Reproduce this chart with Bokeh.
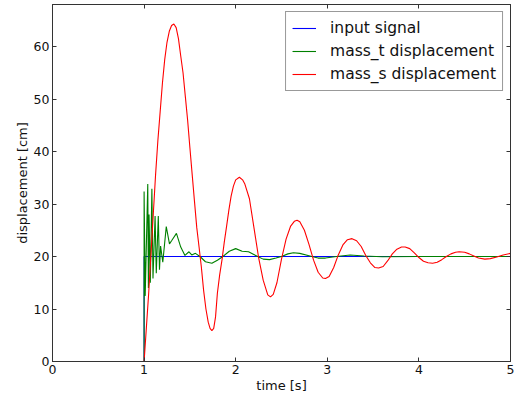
from bokeh.plotting import figure
from bokeh.models import (LinearAxis, Range1d, Legend, LegendItem, FixedTicker,
                          CustomLabelingPolicy)
from bokeh.embed import file_html
from bokeh.resources import INLINE

# ---- data ----
input_t = [0.0, 1.0, 1.0, 5.0]
input_y = [0.0, 0.0, 20.0, 20.0]

mass_t_t = [0.0, 1.0, 1.0, 1.012, 1.04, 1.047, 1.054, 1.068, 1.085, 1.097, 1.12, 1.133,
            1.155, 1.168, 1.18, 1.204, 1.242, 1.277, 1.30, 1.353, 1.40, 1.446, 1.49,
            1.52, 1.56, 1.61, 1.67, 1.74, 1.80, 1.86, 1.93, 2.0, 2.07, 2.14, 2.24,
            2.30, 2.37, 2.44, 2.5, 2.57, 2.63, 2.7, 2.83, 2.9, 2.98, 3.1, 3.25, 3.4,
            3.6, 4.0, 5.0]
mass_t_y = [0.0, 0.0, 32.4, 12.5, 33.8, 14.0, 28.0, 15.0, 32.9, 15.8, 27.7, 16.8,
            27.7, 17.5, 22.0, 18.9, 25.7, 22.4, 23.0, 24.4, 21.8, 20.2, 20.9,
            20.3, 20.6, 20.0, 19.0, 18.7, 19.3, 20.0, 21.0, 21.5, 21.0, 20.9, 20.0,
            19.5, 19.4, 19.7, 20.0, 20.5, 20.7, 20.6, 20.0, 19.7, 19.7, 20.0, 20.3, 20.1,
            19.95, 20.0, 20.0]

mass_s_t = [0.0, 1.0, 1.025, 1.05, 1.075, 1.1, 1.125, 1.15, 1.175, 1.2, 1.225, 1.25,
            1.275, 1.3, 1.325, 1.35, 1.375, 1.4, 1.425, 1.45, 1.475, 1.5, 1.525, 1.55,
            1.575, 1.6, 1.625, 1.65, 1.675, 1.7, 1.72, 1.74, 1.76, 1.78, 1.8, 1.825,
            1.85, 1.875, 1.9, 1.925, 1.95, 1.975, 2.0, 2.04, 2.075, 2.1, 2.15, 2.2,
            2.25, 2.3, 2.35, 2.38, 2.41, 2.45, 2.5, 2.55, 2.6, 2.64, 2.67, 2.7, 2.75,
            2.8, 2.85, 2.9, 2.95, 2.98, 3.02, 3.07, 3.12, 3.17, 3.22, 3.27, 3.32, 3.37,
            3.42, 3.47, 3.52, 3.56, 3.61, 3.66, 3.71, 3.76, 3.81, 3.85, 3.9, 3.95, 4.0,
            4.05, 4.1, 4.15, 4.2, 4.25, 4.3, 4.35, 4.4, 4.44, 4.5, 4.55, 4.6, 4.65,
            4.72, 4.78, 4.85, 4.92, 5.0]
mass_s_y = [0.0, 0.0, 6.5, 13.0, 20.5, 28.0, 35.5, 42.0, 47.5, 53.0, 57.5, 60.8,
            62.9, 64.0, 64.3, 63.6, 61.5, 58.2, 55.0, 50.5, 46.0, 40.7, 35.6, 30.5,
            25.5, 21.8, 18.0, 13.5, 10.0, 7.5, 6.3, 5.9, 6.3, 8.5, 13.0, 16.5,
            19.3, 22.7, 25.7, 28.8, 31.5, 33.4, 34.6, 35.1, 34.6, 33.8, 31.0, 25.4,
            19.8, 15.5, 12.7, 12.3, 12.8, 15.0, 19.5, 23.3, 25.8, 26.7, 26.9, 26.6, 25.0,
            22.3, 19.3, 17.0, 15.9, 15.8, 16.2, 17.9, 20.3, 22.2, 23.2, 23.4, 23.0, 21.9,
            20.2, 18.8, 17.9, 17.8, 18.1, 19.2, 20.5, 21.4, 21.8, 21.8, 21.5, 20.7, 19.8,
            19.1, 18.8, 18.7, 18.9, 19.4, 20.0, 20.5, 20.8, 20.9, 20.8, 20.5, 20.1, 19.7,
            19.5, 19.6, 19.9, 20.3, 20.6]

x_ticks = [0, 1, 2, 3, 4, 5]
y_ticks = [0, 10, 20, 30, 40, 50, 60]
labels = ["input signal", "mass_t displacement", "mass_s displacement"]
colors = ["#0000ff", "#008000", "#ff0000"]

FONT = "DejaVu Sans"
TXT = "#111111"
SPINE = "#333333"

p = figure(width=514, height=395, output_backend="svg", toolbar_location=None,
           x_range=Range1d(0, 5), y_range=Range1d(0, 68),
           min_border_left=52, min_border_top=0, min_border_right=0,
           min_border_bottom=0)
p.grid.visible = False
p.outline_line_color = SPINE
p.outline_line_width = 1
p.background_fill_color = "white"
p.border_fill_color = "white"

r1 = p.line(input_t, input_y, line_color=colors[0], line_width=1.1)
r2 = p.line(mass_t_t, mass_t_y, line_color=colors[1], line_width=1.1)
r3 = p.line(mass_s_t, mass_s_y, line_color=colors[2], line_width=1.1)

for ax in p.xaxis:
    ax.ticker = FixedTicker(ticks=x_ticks)
for ax in p.yaxis:
    ax.ticker = FixedTicker(ticks=y_ticks)

p.xaxis.axis_label = "time [s]"
p.yaxis.axis_label = "displacement [cm]"
for ax in list(p.xaxis) + list(p.yaxis):
    ax.axis_label_text_font = FONT
    ax.axis_label_text_font_size = "13px"
    ax.axis_label_text_font_style = "normal"
    ax.axis_label_text_color = TXT
    ax.major_label_text_font = FONT
    ax.major_label_text_font_size = "12.5px"
    ax.major_label_text_color = TXT
    ax.major_tick_in = 4
    ax.major_tick_out = 0
    ax.minor_tick_in = 0
    ax.minor_tick_out = 0
    ax.axis_line_color = SPINE
    ax.major_tick_line_color = SPINE
    ax.major_label_standoff = 3
    ax.axis_label_standoff = 1

# top and right spines' ticks (no labels drawn)
no_labels = CustomLabelingPolicy(code="""
    for (const i of Array.from(indices)) { indices.unset(i) }
    return indices
""")
right = LinearAxis(ticker=FixedTicker(ticks=y_ticks), major_label_policy=no_labels,
                   major_label_text_font_size="1px",
                   major_tick_in=4, major_tick_out=0, minor_tick_in=0, minor_tick_out=0,
                   axis_line_color=SPINE, major_tick_line_color=SPINE,
                   major_label_standoff=0)
top = LinearAxis(ticker=FixedTicker(ticks=x_ticks), major_label_policy=no_labels,
                 major_label_text_font_size="1px",
                 major_tick_in=4, major_tick_out=0, minor_tick_in=0, minor_tick_out=0,
                 axis_line_color=SPINE, major_tick_line_color=SPINE,
                 major_label_standoff=0)
p.add_layout(right, "right")
p.add_layout(top, "above")

legend = Legend(items=[LegendItem(label=labels[0], renderers=[r1]),
                       LegendItem(label=labels[1], renderers=[r2]),
                       LegendItem(label=labels[2], renderers=[r3])],
                location="top_right")
legend.label_text_font = FONT
legend.label_text_font_size = "15.5px"
legend.label_text_color = TXT
legend.border_line_color = SPINE
legend.border_line_width = 1
legend.glyph_width = 24
legend.glyph_height = 20
legend.label_height = 20
legend.spacing = 3
legend.label_standoff = 14
legend.padding = 6
legend.margin = 7
legend.background_fill_alpha = 1.0
p.add_layout(legend)

open("out.html", "w").write(file_html(p, INLINE))
